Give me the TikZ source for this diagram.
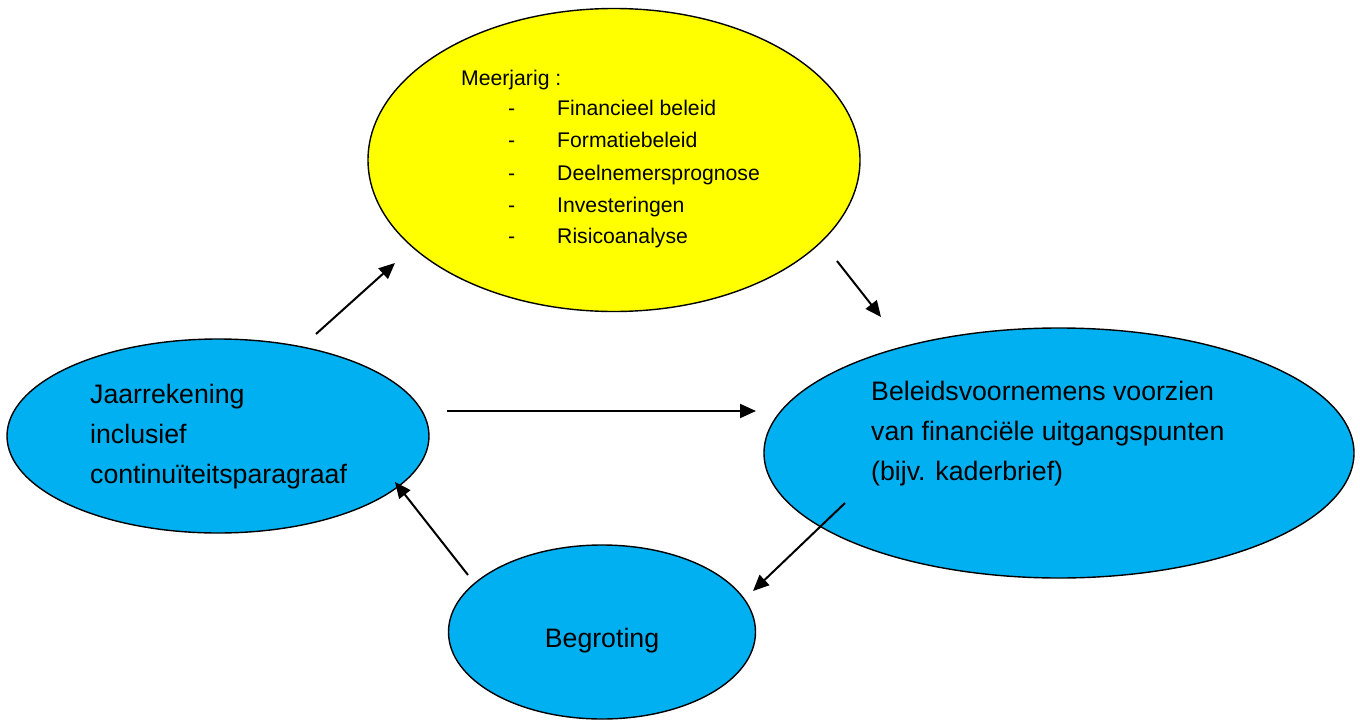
\documentclass[tikz,border=0pt]{standalone}
\usepackage{fontspec}
\setmainfont{Liberation Sans}
\usetikzlibrary{shapes.geometric,arrows.meta}
\definecolor{ybox}{HTML}{FFFF00}
\definecolor{bbox}{HTML}{00B0F0}
\tikzset{
  oval/.style={ellipse, draw=black, line width=1.4pt, inner sep=0pt, outer sep=0pt},
  bigtxt/.style={anchor=base west, inner sep=0pt, font=\fontsize{26.7}{30}\selectfont},
  smalltxt/.style={anchor=base west, inner sep=0pt, font=\fontsize{21.2}{24}\selectfont},
  flow/.style={line width=2pt, -{Triangle[length=16pt,width=14pt]}}
}
\begin{document}
\begin{tikzpicture}[x=1pt,y=-1pt]
\useasboundingbox (0,0) rectangle (1360,720);
% ellipses
\node[oval, fill=ybox, minimum width=492pt, minimum height=303pt] (meer) at (614,160) {};
\node[oval, fill=bbox, minimum width=422pt, minimum height=194pt] (jaar) at (218,436) {};
\node[oval, fill=bbox, minimum width=590pt, minimum height=250pt] (beleid) at (1059,453) {};
\node[oval, fill=bbox, minimum width=307pt, minimum height=174pt] (begr) at (602,632) {};
% yellow text
\node[smalltxt] (t0) at (461,85) {Meerjarig :};
\node[smalltxt] (d1) at (508,115) {-};
\node[smalltxt] (d2) at (508,147) {-};
\node[smalltxt] (d3) at (508,180) {-};
\node[smalltxt] (d4) at (508,212) {-};
\node[smalltxt] (d5) at (508,243) {-};
\node[smalltxt] (t1) at (557,115) {Financieel beleid};
\node[smalltxt] (t2) at (557,147) {Formatiebeleid};
\node[smalltxt] (t3) at (557,180) {Deelnemersprognose};
\node[smalltxt] (t4) at (557,212) {Investeringen};
\node[smalltxt] (t5) at (557,243) {Risicoanalyse};
% left text
\node[bigtxt] (j1) at (90,403) {Jaarrekening};
\node[bigtxt] (j2) at (90,443) {inclusief};
\node[bigtxt] (j3) at (90,483) {continuïteitsparagraaf};
% right text
\node[bigtxt] (b1) at (871,400) {Beleidsvoornemens voorzien};
\node[bigtxt] (b2) at (871,440) {van financiële uitgangspunten};
\node[bigtxt] (b3) at (871,480) {(bijv. kaderbrief)};
% bottom text
\node[bigtxt, anchor=base] (g1) at (602,647) {Begroting};
% arrow endpoints
\coordinate (a1s) at (316,334);
\coordinate (a1e) at (395,263);
\coordinate (a2s) at (837,261);
\coordinate (a2e) at (881,317);
\coordinate (a3s) at (447,411);
\coordinate (a3e) at (756,411);
\coordinate (a4s) at (845,503);
\coordinate (a4e) at (753,591);
\coordinate (a5s) at (468,575);
\coordinate (a5e) at (395,482);
\draw[flow] (a1s) -- (a1e);
\draw[flow] (a2s) -- (a2e);
\draw[flow] (a3s) -- (a3e);
\draw[flow] (a4s) -- (a4e);
\draw[flow] (a5s) -- (a5e);
\end{tikzpicture}
\end{document}
